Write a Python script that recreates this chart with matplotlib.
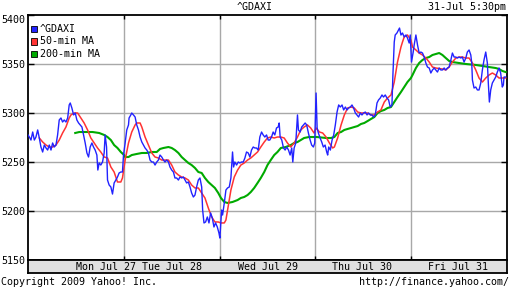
import matplotlib
matplotlib.use('Agg')
import matplotlib.pyplot as plt
from matplotlib.patches import Rectangle

# time is in trading days from Mon Jul 27 open (0..5)
gdaxi_t = [0.000, 0.014, 0.031, 0.049, 0.066, 0.083, 0.101, 0.118, 0.135, 0.153, 0.170, 0.188, 0.205, 0.222, 0.240,
           0.257, 0.274, 0.292, 0.309, 0.326, 0.344, 0.361, 0.378, 0.396, 0.414, 0.430, 0.441, 0.458, 0.476, 0.493,
           0.510, 0.528, 0.545, 0.563, 0.580, 0.597, 0.615, 0.632, 0.649, 0.667, 0.684, 0.701, 0.719, 0.729, 0.743,
           0.760, 0.778, 0.795, 0.805, 0.820, 0.830, 0.847, 0.865, 0.882, 0.899, 0.917, 0.934, 0.951, 0.969, 0.986,
           0.997, 1.014, 1.031, 1.049, 1.055, 1.073, 1.083, 1.101, 1.118, 1.135, 1.153, 1.170, 1.188, 1.205, 1.222,
           1.240, 1.257, 1.274, 1.292, 1.309, 1.326, 1.344, 1.361, 1.378, 1.396, 1.414, 1.430, 1.448, 1.466, 1.482,
           1.500, 1.518, 1.534, 1.552, 1.570, 1.586, 1.604, 1.622, 1.639, 1.656, 1.674, 1.691, 1.708, 1.726, 1.743,
           1.760, 1.778, 1.795, 1.813, 1.823, 1.837, 1.854, 1.872, 1.889, 1.906, 1.924, 1.941, 1.958, 1.976, 1.993,
           2.003, 2.021, 2.031, 2.049, 2.066, 2.083, 2.101, 2.118, 2.135, 2.146, 2.159, 2.177, 2.195, 2.211, 2.229,
           2.247, 2.264, 2.281, 2.299, 2.316, 2.333, 2.351, 2.368, 2.385, 2.403, 2.420, 2.438, 2.455, 2.472, 2.490,
           2.507, 2.524, 2.542, 2.559, 2.576, 2.594, 2.611, 2.622, 2.632, 2.649, 2.667, 2.684, 2.701, 2.719, 2.736,
           2.753, 2.764, 2.778, 2.795, 2.813, 2.823, 2.841, 2.857, 2.875, 2.893, 2.909, 2.927, 2.945, 2.961, 2.979,
           2.993, 3.007, 3.018, 3.031, 3.049, 3.066, 3.083, 3.101, 3.118, 3.128, 3.139, 3.156, 3.174, 3.191, 3.208,
           3.226, 3.243, 3.260, 3.278, 3.295, 3.313, 3.330, 3.347, 3.365, 3.382, 3.399, 3.417, 3.434, 3.451, 3.469,
           3.486, 3.503, 3.521, 3.539, 3.555, 3.573, 3.591, 3.607, 3.625, 3.643, 3.659, 3.677, 3.695, 3.711, 3.729,
           3.747, 3.764, 3.781, 3.799, 3.809, 3.823, 3.833, 3.851, 3.868, 3.878, 3.893, 3.909, 3.927, 3.945, 3.961,
           3.979, 3.990, 4.003, 4.021, 4.031, 4.049, 4.066, 4.083, 4.101, 4.118, 4.135, 4.153, 4.170, 4.188, 4.205,
           4.222, 4.240, 4.257, 4.274, 4.292, 4.309, 4.326, 4.344, 4.361, 4.378, 4.396, 4.414, 4.430, 4.448, 4.466,
           4.482, 4.500, 4.518, 4.534, 4.552, 4.570, 4.586, 4.604, 4.622, 4.632, 4.639, 4.656, 4.674, 4.691, 4.708,
           4.726, 4.743, 4.760, 4.778, 4.795, 4.805, 4.816, 4.830, 4.847, 4.865, 4.882, 4.899, 4.917, 4.934, 4.951,
           4.962, 4.969, 4.986]
gdaxi = [5277.6, 5275.5, 5272.4, 5280.6, 5272.4, 5275.5, 5282.7, 5274.5, 5265.3, 5260.2, 5267.3, 5264.3, 5262.2, 5267.3, 5262.2,
         5269.4, 5265.3, 5267.3, 5277.6, 5292.9, 5294.9, 5290.8, 5292.9, 5290.8, 5294.9, 5308.2, 5310.2, 5305.1, 5298.0, 5300.0,
         5292.9, 5289.8, 5287.8, 5285.7, 5277.6, 5269.4, 5259.2, 5255.1, 5265.3, 5269.4, 5265.3, 5262.2, 5257.1, 5241.8, 5249.0,
         5246.9, 5250.0, 5259.2, 5277.6, 5265.3, 5231.6, 5226.5, 5224.5, 5217.3, 5228.6, 5231.6, 5234.7, 5238.8, 5239.8, 5239.8,
         5257.1, 5269.4, 5282.7, 5287.8, 5294.9, 5298.0, 5300.0, 5298.0, 5295.9, 5287.8, 5282.7, 5275.5, 5270.4, 5267.3, 5264.3,
         5262.2, 5259.2, 5252.0, 5250.0, 5250.0, 5246.9, 5250.0, 5252.0, 5257.1, 5255.1, 5252.0, 5250.0, 5252.0, 5250.0, 5244.9,
         5241.8, 5239.8, 5233.7, 5233.7, 5231.6, 5234.7, 5233.7, 5234.7, 5231.6, 5228.6, 5229.6, 5224.5, 5218.4, 5214.3, 5216.3,
         5224.5, 5231.6, 5233.7, 5224.5, 5201.0, 5187.8, 5188.8, 5193.9, 5187.8, 5198.0, 5192.9, 5183.7, 5187.8, 5183.7, 5177.6,
         5172.4, 5201.0, 5195.9, 5208.2, 5221.4, 5223.5, 5224.5, 5233.7, 5260.2, 5244.9, 5250.0, 5246.9, 5250.0, 5249.0, 5250.0,
         5250.0, 5254.1, 5260.2, 5259.2, 5255.1, 5262.2, 5265.3, 5264.3, 5264.3, 5262.2, 5275.5, 5280.6, 5277.6, 5275.5, 5277.6,
         5272.4, 5272.4, 5275.5, 5280.6, 5277.6, 5284.7, 5285.7, 5289.8, 5275.5, 5272.4, 5264.3, 5262.2, 5265.3, 5262.2, 5257.1,
         5264.3, 5250.0, 5264.3, 5269.4, 5298.0, 5282.7, 5280.6, 5285.7, 5287.8, 5289.8, 5287.8, 5279.6, 5272.4, 5267.3, 5265.3,
         5269.4, 5320.4, 5284.7, 5279.6, 5274.5, 5270.4, 5265.3, 5267.3, 5260.2, 5257.1, 5265.3, 5262.2, 5272.4, 5277.6, 5287.8,
         5301.0, 5308.2, 5306.1, 5308.2, 5303.1, 5306.1, 5303.1, 5305.1, 5306.1, 5308.2, 5305.1, 5300.0, 5298.0, 5295.9, 5300.0,
         5298.0, 5300.0, 5301.0, 5298.0, 5300.0, 5298.0, 5298.0, 5295.9, 5298.0, 5310.2, 5313.3, 5315.3, 5318.4, 5316.3, 5318.4,
         5315.3, 5313.3, 5306.1, 5308.2, 5338.8, 5372.4, 5379.6, 5381.6, 5384.7, 5386.7, 5379.6, 5381.6, 5377.6, 5379.6, 5376.5,
         5371.4, 5379.6, 5352.0, 5362.2, 5369.4, 5379.6, 5369.4, 5361.2, 5362.2, 5361.2, 5357.1, 5351.0, 5346.9, 5345.9, 5340.8,
         5343.9, 5345.9, 5343.9, 5341.8, 5345.9, 5343.9, 5343.9, 5345.9, 5343.9, 5345.9, 5346.9, 5354.1, 5361.2, 5357.1, 5357.1,
         5356.1, 5357.1, 5356.1, 5357.1, 5352.0, 5356.1, 5362.2, 5364.3, 5359.2, 5351.0, 5333.7, 5325.5, 5326.5, 5323.5, 5323.5,
         5330.6, 5343.9, 5354.1, 5362.2, 5351.0, 5330.6, 5311.2, 5323.5, 5330.6, 5333.7, 5336.7, 5341.8, 5345.9, 5340.8, 5326.5,
         5328.6, 5336.7, 5336.7]

ma50_t = [0.118, 0.153, 0.188, 0.222, 0.257, 0.292, 0.326, 0.361, 0.396, 0.430, 0.448, 0.482, 0.518, 0.552, 0.586,
          0.622, 0.656, 0.691, 0.726, 0.760, 0.795, 0.830, 0.865, 0.899, 0.934, 0.969, 0.986, 1.014, 1.049, 1.083,
          1.118, 1.135, 1.170, 1.188, 1.222, 1.257, 1.292, 1.326, 1.361, 1.396, 1.466, 1.500, 1.534, 1.570, 1.604,
          1.639, 1.674, 1.708, 1.743, 1.778, 1.813, 1.847, 1.882, 1.917, 1.951, 1.986, 2.014, 2.049, 2.066, 2.083,
          2.101, 2.118, 2.153, 2.188, 2.222, 2.257, 2.292, 2.326, 2.361, 2.396, 2.430, 2.466, 2.500, 2.534, 2.570,
          2.604, 2.639, 2.674, 2.708, 2.743, 2.778, 2.813, 2.847, 2.882, 2.917, 2.951, 2.986, 3.007, 3.042, 3.076,
          3.111, 3.146, 3.180, 3.198, 3.232, 3.268, 3.302, 3.336, 3.372, 3.406, 3.441, 3.476, 3.545, 3.580, 3.615,
          3.649, 3.684, 3.719, 3.753, 3.789, 3.823, 3.857, 3.893, 3.909, 3.927, 3.961, 3.997, 4.014, 4.049, 4.083,
          4.118, 4.153, 4.188, 4.222, 4.257, 4.326, 4.361, 4.396, 4.430, 4.466, 4.500, 4.534, 4.570, 4.604, 4.639,
          4.674, 4.708, 4.743, 4.778, 4.813, 4.847, 4.882, 4.917, 4.951, 4.986]
ma50 = [5274.5, 5270.4, 5267.3, 5265.3, 5265.3, 5267.3, 5272.4, 5279.6, 5285.7, 5294.9, 5298.0, 5300.0, 5300.0, 5294.9, 5289.8,
        5282.7, 5274.5, 5269.4, 5264.3, 5260.2, 5255.1, 5254.1, 5244.9, 5239.8, 5229.6, 5229.6, 5233.7, 5252.0, 5269.4, 5280.6,
        5287.8, 5289.8, 5289.8, 5285.7, 5275.5, 5267.3, 5259.2, 5255.1, 5254.1, 5252.0, 5252.0, 5246.9, 5239.8, 5236.7, 5234.7,
        5233.7, 5231.6, 5226.5, 5223.5, 5223.5, 5218.4, 5213.3, 5203.1, 5193.9, 5188.8, 5188.8, 5187.8, 5187.8, 5190.8, 5201.0,
        5211.2, 5221.4, 5234.7, 5241.8, 5246.9, 5249.0, 5252.0, 5254.1, 5257.1, 5260.2, 5265.3, 5270.4, 5274.5, 5275.5, 5274.5,
        5275.5, 5275.5, 5274.5, 5269.4, 5265.3, 5269.4, 5275.5, 5282.7, 5285.7, 5287.8, 5284.7, 5279.6, 5284.7, 5280.6, 5279.6,
        5275.5, 5269.4, 5264.3, 5265.3, 5274.5, 5287.8, 5298.0, 5305.1, 5306.1, 5305.1, 5301.0, 5300.0, 5300.0, 5298.0, 5298.0,
        5301.0, 5303.1, 5311.2, 5315.3, 5318.4, 5331.6, 5352.0, 5367.3, 5372.4, 5377.6, 5379.6, 5374.5, 5367.3, 5364.3, 5361.2,
        5359.2, 5356.1, 5352.0, 5346.9, 5345.9, 5344.9, 5343.9, 5346.9, 5352.0, 5356.1, 5357.1, 5357.1, 5356.1, 5356.1, 5351.0,
        5343.9, 5335.7, 5331.6, 5335.7, 5338.8, 5340.8, 5338.8, 5335.7, 5335.7, 5335.7]

ma200_t = [0.493, 0.535, 0.604, 0.674, 0.743, 0.795, 0.830, 0.865, 0.899, 0.934, 0.969, 1.003, 1.014, 1.049, 1.083,
           1.135, 1.188, 1.240, 1.292, 1.344, 1.378, 1.414, 1.466, 1.500, 1.534, 1.570, 1.604, 1.639, 1.674, 1.708,
           1.743, 1.778, 1.813, 1.847, 1.882, 1.917, 1.951, 1.986, 2.014, 2.049, 2.083, 2.135, 2.188, 2.222, 2.257,
           2.292, 2.326, 2.361, 2.396, 2.430, 2.466, 2.500, 2.534, 2.570, 2.604, 2.639, 2.691, 2.743, 2.778, 2.813,
           2.847, 2.882, 2.934, 3.014, 3.111, 3.163, 3.198, 3.232, 3.268, 3.302, 3.336, 3.372, 3.406, 3.441, 3.476,
           3.510, 3.545, 3.580, 3.615, 3.649, 3.684, 3.719, 3.753, 3.789, 3.823, 3.857, 3.893, 3.927, 3.961, 3.997,
           4.014, 4.049, 4.083, 4.118, 4.153, 4.188, 4.222, 4.257, 4.292, 4.326, 4.361, 4.396, 4.430, 4.500, 4.570,
           4.674, 4.743, 4.813, 4.882, 4.917, 4.951, 4.986]
ma200 = [5279.6, 5280.6, 5280.6, 5280.6, 5279.6, 5277.6, 5275.5, 5272.4, 5267.3, 5264.3, 5260.2, 5257.1, 5255.1, 5255.1, 5257.1,
         5258.2, 5259.2, 5259.2, 5260.2, 5260.2, 5263.3, 5264.3, 5265.3, 5264.3, 5262.2, 5259.2, 5255.1, 5252.0, 5249.0, 5246.9,
         5243.9, 5239.8, 5238.8, 5233.7, 5229.6, 5226.5, 5223.5, 5218.4, 5213.3, 5209.2, 5208.2, 5209.2, 5211.2, 5213.3, 5214.3,
         5216.3, 5219.4, 5223.5, 5228.6, 5233.7, 5239.8, 5246.9, 5252.0, 5257.1, 5260.2, 5264.3, 5265.3, 5267.3, 5269.4, 5270.4,
         5272.4, 5274.5, 5275.5, 5275.5, 5274.5, 5274.5, 5275.5, 5279.6, 5280.6, 5282.7, 5283.7, 5284.7, 5285.7, 5286.7, 5288.8,
         5289.8, 5291.8, 5293.9, 5295.9, 5300.0, 5302.0, 5303.1, 5305.1, 5306.1, 5311.2, 5316.3, 5321.4, 5326.5, 5331.6, 5335.7,
         5338.8, 5345.9, 5351.0, 5354.1, 5356.1, 5357.1, 5359.2, 5360.2, 5361.2, 5359.2, 5356.1, 5353.1, 5352.0, 5351.0, 5350.0,
         5349.0, 5348.0, 5346.9, 5345.9, 5344.9, 5342.9, 5341.8]

day_labels = ['Mon Jul 27', 'Tue Jul 28', 'Wed Jul 29', 'Thu Jul 30', 'Fri Jul 31']
day_label_pos = [0.81, 1.5, 2.5, 3.49, 4.49]
y_ticks = [5150, 5200, 5250, 5300, 5350, 5400]

plt.rcParams['font.family'] = ['DejaVu Sans Mono']
fs = 7.2
W, H = 512, 288

fig = plt.figure(figsize=(W / 100, H / 100), dpi=100)
fig.patch.set_facecolor('white')

# main plot area: x 28..507, y 15..260 (pixels)
ax = fig.add_axes([28 / W, 1 - 260 / H, 479 / W, 245 / H])
ax.set_xlim(0, 5)
ax.set_ylim(5150, 5400)

for d in [1, 2, 3, 4]:
    ax.axvline(d, color='#a8a8a8', lw=1.0, zorder=1)
for v in [5200, 5250, 5300, 5350]:
    ax.axhline(v, color='#a8a8a8', lw=1.0, zorder=1)

ax.plot(ma200_t, ma200, color='#00aa00', lw=1.5, zorder=3)
ax.plot(ma50_t, ma50, color='#ff3333', lw=1.1, zorder=4)
ax.plot(gdaxi_t, gdaxi, color='#2222ff', lw=1.0, zorder=5)

ax.set_yticks(y_ticks)
ax.set_yticklabels([str(v) for v in y_ticks], fontsize=fs)
ax.tick_params(axis='y', direction='in', length=4, width=1, left=True, right=True, pad=2)
ax.get_yticklabels()[-1].set_va('top')
ax.set_xticks([1, 2, 3, 4])
ax.set_xticklabels([])
ax.tick_params(axis='x', direction='in', length=3, width=1, bottom=True, top=True)
for s in ax.spines.values():
    s.set_linewidth(1.3)
    s.set_color('black')

# legend
leg_names = ['^GDAXI', '50-min MA', '200-min MA']
leg_colors = ['#2222ff', '#ff3333', '#00aa00']
for i, (name, col) in enumerate(zip(leg_names, leg_colors)):
    yc = 29 + i * 12.5
    fig.patches.append(Rectangle((31 / W, 1 - (yc + 3) / H), 6 / W, 6 / H,
                                 transform=fig.transFigure, facecolor=col,
                                 edgecolor='black', lw=0.6, zorder=10))
    fig.text(40 / W, 1 - yc / H, name, fontsize=fs, va='center', ha='left', zorder=11)

# date strip below the plot
ax2 = fig.add_axes([28 / W, 1 - 273 / H, 479 / W, 13 / H])
ax2.set_facecolor('#e0e0e0')
ax2.set_xlim(0, 5)
ax2.set_ylim(0, 1)
ax2.set_xticks([])
ax2.set_yticks([])
for s in ax2.spines.values():
    s.set_linewidth(1.3)
for lab, pos in zip(day_labels, day_label_pos):
    ax2.text(pos, 0.5, lab, fontsize=fs, ha='center', va='center')

fig.text(255 / W, 1 - 7 / H, '^GDAXI', fontsize=fs, ha='center', va='center')
fig.text(506 / W, 1 - 7 / H, '31-Jul 5:30pm', fontsize=fs, ha='right', va='center')
fig.text(1 / W, 1 - 282 / H, 'Copyright 2009 Yahoo! Inc.', fontsize=fs, ha='left', va='center')
fig.text(509 / W, 1 - 282 / H, 'http://finance.yahoo.com/', fontsize=fs, ha='right', va='center')

fig.savefig('out.png', dpi=100)
